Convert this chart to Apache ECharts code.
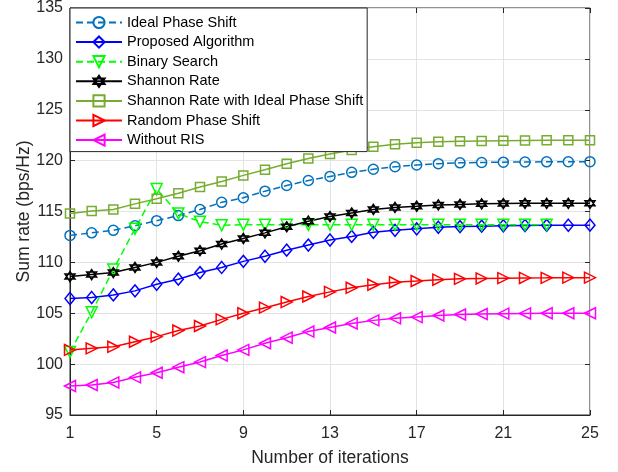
<!DOCTYPE html>
<html>
<head>
<meta charset="utf-8">
<script src="https://cdn.jsdelivr.net/npm/echarts@6/dist/echarts.min.js"></script>
<style>html,body{margin:0;padding:0;background:#fff}#chart{width:618px;height:472px}</style>
</head>
<body>
<div id="chart"></div>
<script>
const iterations = [1,2,3,4,5,6,7,8,9,10,11,12,13,14,15,16,17,18,19,20,21,22,23,24,25];
const idealPhaseShift = [112.65,112.9,113.15,113.6,114.1,114.6,115.2,115.9,116.35,117.0,117.55,118.05,118.45,118.85,119.15,119.4,119.57,119.7,119.78,119.82,119.85,119.87,119.88,119.89,119.9];
const proposedAlgorithm = [106.45,106.55,106.8,107.2,107.85,108.35,109.0,109.5,110.1,110.6,111.2,111.7,112.2,112.55,112.95,113.15,113.3,113.45,113.52,113.56,113.6,113.62,113.64,113.65,113.66];
const binarySearch = [101.2,105.1,109.3,113.3,117.2,114.8,114.0,113.65,113.7,113.7,113.7,113.7,113.7,113.7,113.7,113.7,113.7,113.7,113.7,113.7,113.7,113.7,113.7];
const shannonRate = [108.6,108.8,109.0,109.5,110.0,110.6,111.15,111.8,112.35,112.9,113.5,114.05,114.5,114.85,115.2,115.4,115.52,115.65,115.7,115.75,115.78,115.8,115.8,115.8,115.8];
const shannonIdeal = [114.8,115.05,115.2,115.75,116.25,116.8,117.4,117.95,118.55,119.1,119.7,120.2,120.65,121.05,121.37,121.6,121.75,121.85,121.9,121.94,121.96,121.98,122.0,122.0,122.0];
const randomPhaseShift = [101.4,101.55,101.7,102.2,102.7,103.3,103.75,104.4,105.0,105.55,106.1,106.65,107.1,107.5,107.8,108.05,108.17,108.3,108.38,108.42,108.45,108.47,108.48,108.5,108.5];
const withoutRIS = [97.85,97.95,98.2,98.7,99.15,99.7,100.2,100.85,101.4,102.05,102.6,103.2,103.6,104.0,104.3,104.5,104.62,104.78,104.88,104.93,104.96,104.98,105.0,105.0,105.0];
const yTicks = {min: 95, max: 135, interval: 5};

const FONT = '"Liberation Sans", Arial, Helvetica, sans-serif';
const TXT = '#262626';
const hexagram = 'path://M0,-10 L8.66,5 L-8.66,5 Z M0,10 L8.66,-5 L-8.66,-5 Z';

function mkSeries(name, data, color, symbol, size, rotate, dashed) {
  return {
    name: name, type: 'line', data: data,
    symbol: symbol, symbolSize: size, symbolRotate: rotate,
    showAllSymbol: true, animation: false,
    lineStyle: {color: color, width: 1.5, type: dashed ? [7, 4] : 'solid'},
    itemStyle: {color: 'rgba(0,0,0,0)', borderColor: color, borderWidth: 1.5}
  };
}

const series = [
  mkSeries('Ideal Phase Shift', idealPhaseShift, '#0072BD', 'circle', 10, 0, true),
  mkSeries('Proposed Algorithm', proposedAlgorithm, '#0000FF', 'diamond', [10, 12], 0, false),
  mkSeries('Binary Search', binarySearch, '#00FF00', 'triangle', 11, 180, true),
  mkSeries('Shannon Rate', shannonRate, '#000000', hexagram, 10, 0, false),
  mkSeries('Shannon Rate with Ideal Phase Shift', shannonIdeal, '#77AC30', 'rect', 9, 0, false),
  mkSeries('Random Phase Shift', randomPhaseShift, '#FF0000', 'triangle', 11, -90, false),
  mkSeries('Without RIS', withoutRIS, '#FF00FF', 'triangle', 11, 90, false)
];

const chart = echarts.init(document.getElementById('chart'), null, {renderer: 'canvas'});
chart.setOption({
  animation: false,
  backgroundColor: '#fff',
  textStyle: {fontFamily: FONT},
  grid: {left: 70, right: 28, top: 7, bottom: 56, show: true, borderColor: TXT, borderWidth: 1, backgroundColor: 'transparent'},
  legend: {
    orient: 'vertical', left: 70, top: 8,
    backgroundColor: '#fff', borderColor: TXT, borderWidth: 1, borderRadius: 0,
    padding: [7, 4, 4, 5],
    itemWidth: 46, itemHeight: 14, itemGap: 4.6,
    textStyle: {fontFamily: FONT, fontSize: 14.5, color: '#000'},
    data: series.map(s => s.name)
  },
  xAxis: [{
    type: 'category', data: iterations, boundaryGap: false,
    name: 'Number of iterations', nameLocation: 'middle', nameGap: 34, nameMoveOverlap: false,
    nameTextStyle: {fontFamily: FONT, fontSize: 17.5, color: TXT},
    axisLine: {lineStyle: {color: TXT}},
    axisTick: {inside: true, length: 5, interval: 3, lineStyle: {color: TXT}},
    axisLabel: {interval: 3, fontFamily: FONT, fontSize: 16, color: TXT, margin: 11},
    splitLine: {show: true, interval: 3, lineStyle: {color: '#e3e3e3'}}
  }, {
    type: 'category', data: iterations, boundaryGap: false, position: 'top',
    axisLine: {show: false},
    axisTick: {inside: true, length: 5, interval: 3, lineStyle: {color: TXT}},
    axisLabel: {show: false}, splitLine: {show: false}
  }],
  yAxis: [{
    type: 'value', min: yTicks.min, max: yTicks.max, interval: yTicks.interval,
    name: 'Sum rate (bps/Hz)', nameLocation: 'middle', nameGap: 37, nameMoveOverlap: false,
    nameTextStyle: {fontFamily: FONT, fontSize: 17.5, color: TXT},
    axisLine: {show: true, lineStyle: {color: TXT}},
    axisTick: {show: true, inside: true, length: 5, lineStyle: {color: TXT}},
    axisLabel: {fontFamily: FONT, fontSize: 16, color: TXT, margin: 7},
    splitLine: {show: true, lineStyle: {color: '#e3e3e3'}}
  }, {
    type: 'value', min: yTicks.min, max: yTicks.max, interval: yTicks.interval, position: 'right',
    axisLine: {show: false},
    axisTick: {show: true, inside: true, length: 5, lineStyle: {color: TXT}},
    axisLabel: {show: false}, splitLine: {show: false}
  }],
  series: series
});
</script>
</body>
</html>
